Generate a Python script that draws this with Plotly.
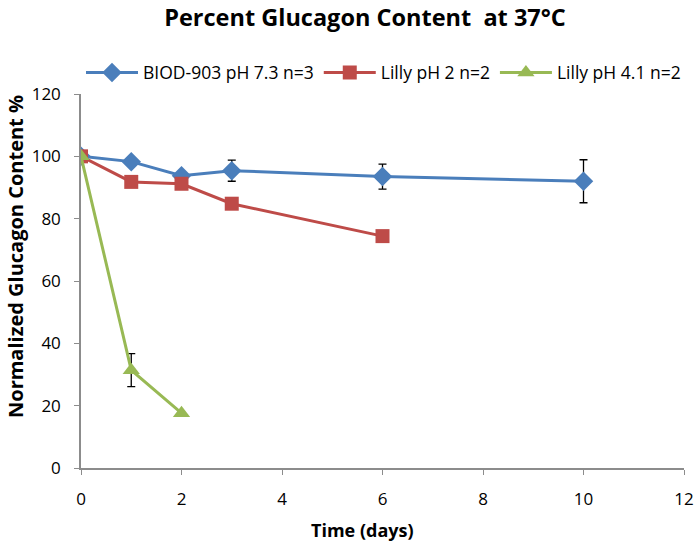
import plotly.graph_objects as go

blue_x = [0, 1, 2, 3, 6, 10]
blue_y = [100, 98.3, 93.8, 95.4, 93.5, 92.0]
blue_err = [0, 0, 0, 3.4, 4.0, 6.9]

red_x = [0, 1, 2, 3, 6]
red_y = [100, 91.8, 91.2, 84.8, 74.4]
red_err = [0, 0, 0, 0, 0]

green_x = [0, 1, 2]
green_y = [100, 31.4, 17.6]
green_err = [0, 5.3, 0]

names = ["BIOD-903 pH 7.3 n=3", "Lilly pH 2 n=2", "Lilly pH 4.1 n=2"]
colors = ["#4A7EBB", "#BE4B48", "#98B954"]
symbols = ["diamond", "square", "triangle-up"]
sizes = [15, 14, 15]

x_ticks = [0, 2, 4, 6, 8, 10, 12]
y_ticks = [0, 20, 40, 60, 80, 100, 120]

FONT = "Open Sans"

fig = go.Figure()
for xs, ys, es, nm, c, s, sz in [
    (blue_x, blue_y, blue_err, names[0], colors[0], symbols[0], sizes[0]),
    (red_x, red_y, red_err, names[1], colors[1], symbols[1], sizes[1]),
    (green_x, green_y, green_err, names[2], colors[2], symbols[2], sizes[2]),
]:
    fig.add_trace(go.Scatter(
        x=xs, y=ys, name=nm, mode="lines+markers",
        line=dict(color=c, width=3),
        marker=dict(symbol=s, size=sz, color=c),
        error_y=dict(type="data", array=es, visible=True, color="black",
                     thickness=1.3, width=4),
    ))

fig.update_layout(
    width=699, height=545,
    paper_bgcolor="white", plot_bgcolor="white",
    margin=dict(l=81, r=15, t=94, b=77, autoexpand=False),
    title=dict(text="<b>Percent Glucagon Content  at 37°C</b>",
               x=365 / 699, xanchor="center", y=1 - 18 / 545, yanchor="middle",
               font=dict(family=FONT, size=23.5, color="black"),
               automargin=False),
    legend=dict(orientation="h", x=0.0, xanchor="left", y=1.057, yanchor="middle",
                font=dict(family=FONT, size=17.5, color="black"),
                itemwidth=52, tracegroupgap=0, bgcolor="rgba(0,0,0,0)"),
    font=dict(family=FONT, color="black"),
    annotations=[
        dict(text="<b>Time (days)</b>", xref="paper", yref="paper",
             x=(362 - 81) / 603, y=-(530 - 468) / 374, xanchor="center", yanchor="middle",
             showarrow=False, font=dict(family=FONT, size=18, color="black")),
        dict(text="<b>Normalized Glucagon Content %</b>", xref="paper", yref="paper",
             x=-(81 - 15) / 603, y=(468 - 257) / 374, xanchor="center", yanchor="middle",
             textangle=-90, showarrow=False,
             font=dict(family=FONT, size=20, color="black")),
    ],
)
fig.update_xaxes(
    range=[0, 12], tickvals=x_ticks, ticktext=[str(v) for v in x_ticks],
    showline=True, linecolor="#8C8C8C", linewidth=1.5, ticks="outside",
    tickcolor="#8C8C8C", ticklen=5, showgrid=False, zeroline=False,
    ticklabelstandoff=10, automargin=False,
    tickfont=dict(family=FONT, size=17, color="black"),
)
fig.update_yaxes(
    range=[0, 120], tickvals=y_ticks, ticktext=[str(v) for v in y_ticks],
    showline=True, linecolor="#8C8C8C", linewidth=1.5, ticks="outside",
    tickcolor="#8C8C8C", ticklen=5, showgrid=False, zeroline=False,
    ticklabelstandoff=10, automargin=False,
    tickfont=dict(family=FONT, size=17, color="black"),
)

fig.write_html("out.html", config={"displayModeBar": False},
               post_script="document.body.style.margin='0';document.body.style.padding='0';")
